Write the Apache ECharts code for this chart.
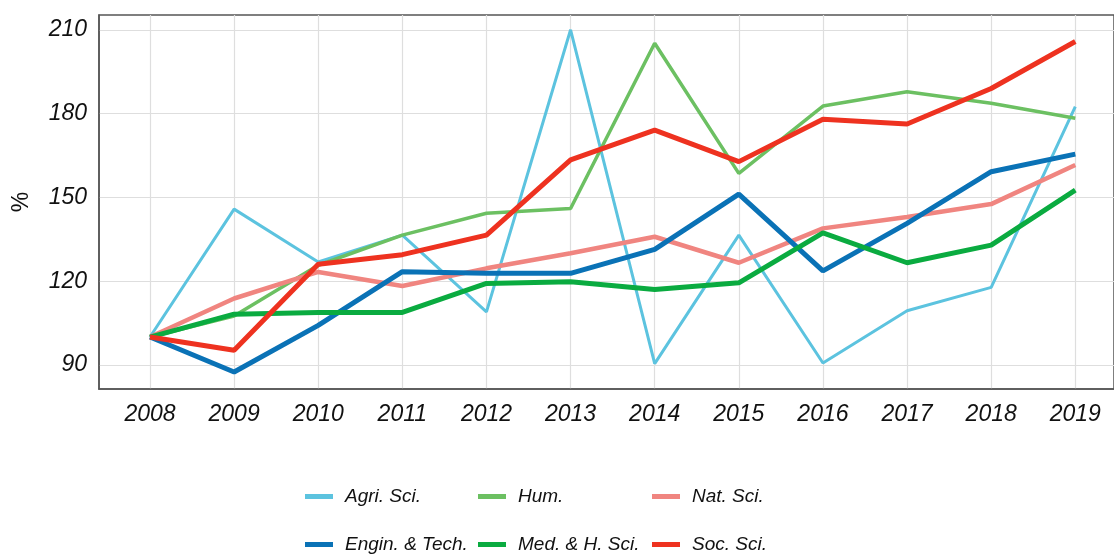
<!DOCTYPE html>
<html>
<head>
<meta charset="utf-8">
<script src="https://cdn.jsdelivr.net/npm/echarts@6/dist/echarts.min.js"></script>
<style>
html,body{margin:0;padding:0;background:#fff;}
#main{width:1114px;height:555px;}
</style>
</head>
<body>
<div id="main"></div>
<script>
const years = [2008, 2009, 2010, 2011, 2012, 2013, 2014, 2015, 2016, 2017, 2018, 2019];
const yTicks = [90, 120, 150, 180, 210];
const agri  = [100, 145.8, 126.9, 136.5, 109, 210, 90.5, 136.5, 90.7, 109.4, 117.8, 182.5];
const hum   = [100, 107.5, 125.7, 136.5, 144.3, 146, 205.2, 158.6, 182.7, 187.8, 183.7, 178.3];
const nat   = [100, 113.8, 123.3, 118.3, 124.6, 130, 135.9, 126.6, 138.9, 143, 147.6, 161.6];
const engin = [100, 87.5, 104.2, 123.4, 122.8, 122.8, 131.4, 151.2, 123.7, 140.7, 159.2, 165.5];
const med   = [100, 108.2, 108.8, 108.8, 119.2, 119.8, 117, 119.4, 137.3, 126.6, 132.9, 152.6];
const soc   = [100, 95.3, 126.1, 129.5, 136.5, 163.4, 174.1, 162.8, 178, 176.3, 189, 205.8];

const names = ['Agri. Sci.', 'Hum.', 'Nat. Sci.', 'Engin. & Tech.', 'Med. & H. Sci.', 'Soc. Sci.'];
const colors = ['#5cc3df', '#6cc062', '#f08580', '#0a72b6', '#0aab40', '#ee3220'];
const widths = [3, 3.5, 4.5, 5, 5, 5];
const datas = [agri, hum, nat, engin, med, soc];
const legendLeft = [305, 478, 652, 305, 478, 652];
const legendTop = [487, 487, 487, 535, 535, 535];

const chart = echarts.init(document.getElementById('main'), null, {renderer: 'canvas'});
const font = 'Liberation Sans, Arial, sans-serif';

function pairs(arr) { return years.map((y, i) => [y, arr[i]]); }

chart.setOption({
  backgroundColor: '#fff',
  animation: false,
  color: colors,
  grid: {left: 99, right: 0, top: 15, bottom: 166, show: true, borderColor: '#555', borderWidth: 1.5, containLabel: false},
  legend: names.map((n, i) => ({
    data: [n],
    left: legendLeft[i],
    top: legendTop[i],
    padding: 0,
    itemWidth: 28,
    itemHeight: 5,
    itemGap: 0,
    icon: 'rect',
    selectedMode: false,
    textStyle: {fontFamily: font, fontStyle: 'italic', fontSize: 19, color: '#111', padding: [0, 0, 0, 7]}
  })),
  xAxis: {
    type: 'value',
    min: 2007.394,
    max: 2019.46,
    axisLine: {show: true, onZero: false, lineStyle: {color: '#555', width: 1.5}},
    axisTick: {show: false, customValues: years},
    axisLabel: {customValues: years, fontFamily: font, fontStyle: 'italic', fontSize: 23, color: '#111', margin: 14,
      formatter: v => String(Math.round(v))},
    splitLine: {show: true, lineStyle: {color: '#dedede', width: 1.2}}
  },
  yAxis: {
    type: 'value',
    min: 81.4,
    max: 215.3,
    name: '%',
    nameLocation: 'middle',
    nameGap: 66,
    nameRotate: 90,
    nameTextStyle: {fontFamily: font, fontSize: 23, color: '#111'},
    axisLine: {show: true, lineStyle: {color: '#555', width: 1.5}},
    axisTick: {show: false, customValues: yTicks},
    axisLabel: {customValues: yTicks, fontFamily: font, fontStyle: 'italic', fontSize: 23, color: '#111', margin: 12},
    splitLine: {show: true, lineStyle: {color: '#dedede', width: 1.2}}
  },
  series: names.map((n, i) => ({
    name: n,
    type: 'line',
    data: pairs(datas[i]),
    symbol: 'none',
    lineStyle: {width: widths[i], color: colors[i]},
    itemStyle: {color: colors[i]},
    z: i === 0 ? 2 : 3 + i
  }))
});
</script>
</body>
</html>
